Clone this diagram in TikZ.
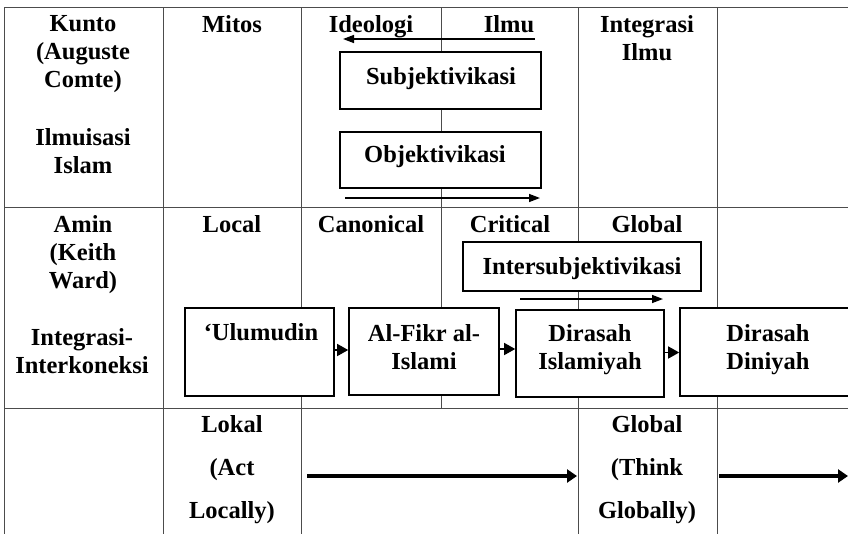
\documentclass[tikz,border=0pt]{standalone}
\usepackage{fontspec}
\setmainfont{Liberation Serif}
\usetikzlibrary{arrows.meta}
\begin{document}
\begin{tikzpicture}[x=1pt,y=-1pt,
  grid/.style={draw=black!70,line width=1pt},
  lbl/.style={font=\fontsize{24.5}{28}\selectfont\bfseries,align=center,inner sep=0pt,anchor=base},
  lbllow/.style={lbl,font=\fontsize{24.5}{43}\selectfont\bfseries},
  box/.style={draw=black,line width=1.6pt,fill=white,inner sep=0pt},
  thin/.style={line width=1.4pt,-{Triangle[length=11pt,width=8pt]}},
  link/.style={line width=1.4pt,-{Triangle[length=11pt,width=12pt]}},
  thick/.style={line width=4.5pt,-{Triangle[length=10pt,width=13pt]}}]
\useasboundingbox (0,0) rectangle (848,533);
\clip (0,0) rectangle (848,533);

% table rules
\draw[grid] (4,7) -- (860,7);
\draw[grid] (4,207) -- (860,207);
\draw[grid] (4,408) -- (860,408);
\draw[grid] (4,7) -- (4,540);
\draw[grid] (163,7) -- (163,540);
\draw[grid] (301,7) -- (301,540);
\draw[grid] (441,7) -- (441,408);
\draw[grid] (578,7) -- (578,540);
\draw[grid] (717,7) -- (717,540);

% first row (multi-line labels sit on the baseline of their last line)
\node[lbl] (kunto) at (83,87) {Kunto\\(Auguste\\Comte)};
\node[lbl] (ilmuisasi) at (83,173) {Ilmuisasi\\Islam};
\node[lbl] (mitos) at (232,32) {Mitos};
\node[lbl] (ideologi) at (371,32) {Ideologi};
\node[lbl] (ilmu) at (509,32) {Ilmu};
\node[lbl] (integrasi) at (647,60) {Integrasi\\Ilmu};
\coordinate (ltop) at (535,39);
\coordinate (rtop) at (343,39);
\draw[thin] (ltop) -- (rtop);

\node[box,minimum width=201pt,minimum height=57pt] (subj) at (440.5,80.5) {};
\node[lbl] (subjt) at (441,84) {Subjektivikasi};
\node[box,minimum width=201pt,minimum height=56pt] (obj) at (440.5,160) {};
\node[lbl] (objt) at (435,162) {Objektivikasi};
\coordinate (lbot) at (345,198);
\coordinate (rbot) at (540,198);
\draw[thin] (lbot) -- (rbot);

% second row
\node[lbl] (amin) at (83,288) {Amin\\(Keith\\Ward)};
\node[lbl] (integ) at (82,373) {Integrasi-\\Interkoneksi};
\node[lbl] (local) at (232,232) {Local};
\node[lbl] (canon) at (371,232) {Canonical};
\node[lbl] (critical) at (510,232) {Critical};
\node[lbl] (global) at (647,232) {Global};

\node[box,minimum width=238pt,minimum height=49pt] (inter) at (582,266.5) {};
\node[lbl] (intert) at (582,274) {Intersubjektivikasi};
\coordinate (linter) at (520,299);
\coordinate (rinter) at (663,299);
\draw[thin] (linter) -- (rinter);

\node[box,minimum width=149pt,minimum height=88pt] (ulum) at (259.5,352) {};
\node[lbl] (ulumt) at (261,340) {`Ulumudin};
\node[box,minimum width=150pt,minimum height=87pt] (fikr) at (424,351.5) {};
\node[lbl] (fikrt) at (424,369) {Al-Fikr al-\\Islami};
\node[box,minimum width=148pt,minimum height=87pt] (dirI) at (590,353.5) {};
\node[lbl] (dirIt) at (590,369) {Dirasah\\Islamiyah};
\node[box,minimum width=190pt,minimum height=88pt] (dirD) at (775,352) {};
\node[lbl] (dirDt) at (768,369) {Dirasah\\Diniyah};

\draw[link] ([yshift=2pt]ulum.east) -- ([yshift=2pt]ulum.east -| fikr.west);
\draw[link] ([yshift=2.5pt]fikr.east) -- ([yshift=2.5pt]fikr.east -| dirI.west);
\draw[link] ([yshift=1pt]dirI.east) -- ([yshift=1pt]dirI.east -| dirD.west);

% third row
\node[lbllow] (lokal) at (232,518) {Lokal\\(Act\\Locally)};
\node[lbllow] (globalb) at (647,518) {Global\\(Think\\Globally)};
\coordinate (a1) at (307,476);
\coordinate (a2) at (577,476);
\coordinate (b1) at (719,476);
\coordinate (b2) at (848,476);
\draw[thick] (a1) -- (a2);
\draw[thick] (b1) -- (b2);
\end{tikzpicture}
\end{document}
